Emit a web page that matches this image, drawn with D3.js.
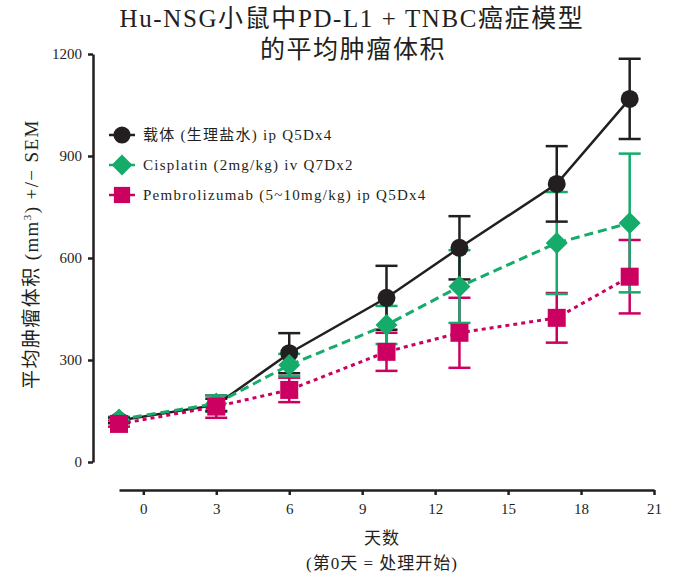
<!DOCTYPE html>
<html>
<head>
<meta charset="utf-8">
<script src="https://cdn.jsdelivr.net/npm/d3@7"></script>
<style>
  html, body { margin: 0; padding: 0; background: #fff; }
  svg text { font-family: "Liberation Serif", "Noto Sans CJK SC", serif; fill: #231f20; }
</style>
</head>
<body>
<svg id="chart" width="673" height="577"></svg>
<script>
// Tumour volume over time (days), mean ± SEM per treatment group
const days = [-1, 3, 6, 10, 13, 17, 20];
const vehicleMean = [122, 168, 320, 483, 630, 818, 1068];
const vehicleSem = [8, 18, 59, 94, 93, 111, 118];
const cisplatinMean = [125, 172, 285, 403, 516, 644, 703];
const cisplatinSem = [8, 24, 33, 56, 107, 150, 204];
const pembroMean = [112, 163, 212, 324, 380, 424, 545];
const pembroSem = [8, 33, 36, 56, 103, 73, 108];

const xTicks = [0, 3, 6, 9, 12, 15, 18, 21];
const yTicks = [0, 300, 600, 900, 1200];

const seriesNames = [
  "载体 (生理盐水) ip Q5Dx4",
  "Cisplatin (2mg/kg) iv Q7Dx2",
  "Pembrolizumab (5~10mg/kg) ip Q5Dx4"
];

const INK = "#231f20", GREEN = "#14ab6b", MAGENTA = "#cc0060";

const series = [
  { name: seriesNames[0], mean: vehicleMean, sem: vehicleSem, color: INK, dash: null, shape: "circle" },
  { name: seriesNames[1], mean: cisplatinMean, sem: cisplatinSem, color: GREEN, dash: "9,5", shape: "diamond" },
  { name: seriesNames[2], mean: pembroMean, sem: pembroSem, color: MAGENTA, dash: "4,4", shape: "square" }
];

const svg = d3.select("#chart");
const x = d3.scaleLinear().domain([-1, 21]).range([119, 654]);
const y = d3.scaleLinear().domain([0, 1200]).range([462, 54]);

// Title
svg.append("text").attr("x", 352).attr("y", 27).attr("text-anchor", "middle")
  .style("font-size", "25px").style("letter-spacing", "1.6px").text("Hu-NSG小鼠中PD-L1 + TNBC癌症模型");
svg.append("text").attr("x", 353).attr("y", 58).attr("text-anchor", "middle")
  .style("font-size", "25px").style("letter-spacing", "1.6px").text("的平均肿瘤体积");

// Y axis
const yAxis = svg.append("g").attr("transform", "translate(93,0)")
  .call(d3.axisLeft(y).tickValues(yTicks).tickFormat(d3.format("d"))
    .tickSize(5).tickPadding(6).tickSizeOuter(0));
yAxis.select(".domain").attr("stroke", INK).attr("stroke-width", 2.5);
yAxis.selectAll(".tick line").attr("stroke", INK).attr("stroke-width", 2.5);
yAxis.selectAll(".tick text").style("font-size", "15px").attr("fill", "#3a3637")
  .style("font-family", "'Liberation Serif', serif");

// X axis
const xAxis = svg.append("g").attr("transform", "translate(0,490)")
  .call(d3.axisBottom(x).tickValues(xTicks).tickFormat(d3.format("d"))
    .tickSize(5).tickPadding(8).tickSizeOuter(0));
xAxis.select(".domain").attr("stroke", INK).attr("stroke-width", 2.5);
xAxis.selectAll(".tick line").attr("stroke", INK).attr("stroke-width", 2.5);
xAxis.selectAll(".tick text").style("font-size", "15px").attr("fill", "#3a3637")
  .style("font-family", "'Liberation Serif', serif");

// Axis titles
svg.append("text").attr("transform", "translate(38,254) rotate(-90)")
  .attr("text-anchor", "middle").style("font-size", "19px").style("letter-spacing", "1.4px")
  .html('平均肿瘤体积 (mm<tspan dy="-7" font-size="11">3</tspan><tspan dy="7">) +/− SEM</tspan>');
svg.append("text").attr("x", 382).attr("y", 544).attr("text-anchor", "middle")
  .style("font-size", "17px").style("letter-spacing", "1px").text("天数");
svg.append("text").attr("x", 382).attr("y", 569).attr("text-anchor", "middle")
  .style("font-size", "17px").style("letter-spacing", "1px").text("(第0天 = 处理开始)");

function drawMarker(g, shape, cx, cy, color, scale = 1) {
  if (shape === "circle") {
    g.append("circle").attr("cx", cx).attr("cy", cy).attr("r", 9 * scale).attr("fill", color);
  } else if (shape === "diamond") {
    const r = 11 * scale;
    g.append("path").attr("d", `M${cx},${cy - r}L${cx + r},${cy}L${cx},${cy + r}L${cx - r},${cy}Z`).attr("fill", color);
  } else {
    const s = 18 * scale;
    g.append("rect").attr("x", cx - s / 2).attr("y", cy - s / 2).attr("width", s).attr("height", s).attr("fill", color);
  }
}

const plot = svg.append("g");
const cap = 11;

// Error bars (drawn beneath lines and markers)
[...series].reverse().forEach(s => {
  const g = plot.append("g").attr("stroke", s.color).attr("stroke-width", 2.5);
  days.forEach((d, i) => {
    const cx = x(d), hi = y(s.mean[i] + s.sem[i]), lo = y(s.mean[i] - s.sem[i]);
    g.append("line").attr("x1", cx).attr("x2", cx).attr("y1", hi).attr("y2", lo);
    g.append("line").attr("x1", cx - cap).attr("x2", cx + cap).attr("y1", hi).attr("y2", hi);
    g.append("line").attr("x1", cx - cap).attr("x2", cx + cap).attr("y1", lo).attr("y2", lo);
  });
});

// Connecting lines
const line = d3.line().x(d => x(d[0])).y(d => y(d[1]));
series.forEach(s => {
  plot.append("path").datum(days.map((d, i) => [d, s.mean[i]]))
    .attr("d", line).attr("fill", "none").attr("stroke", s.color)
    .attr("stroke-width", s.dash ? 3 : 2.5)
    .attr("stroke-dasharray", s.dash);
});

// Markers
series.forEach(s => {
  const g = plot.append("g");
  days.forEach((d, i) => drawMarker(g, s.shape, x(d), y(s.mean[i]), s.color));
});

// Legend
const legend = svg.append("g");
series.forEach((s, i) => {
  const cy = 135 + i * 30;
  legend.append("line").attr("x1", 109).attr("x2", 135).attr("y1", cy).attr("y2", cy)
    .attr("stroke", s.color).attr("stroke-width", 2.5);
  drawMarker(legend, s.shape, 122, cy, s.color, s.shape === "square" ? 0.9 : 0.95);
  legend.append("text").attr("x", 143).attr("y", cy + 5).style("font-size", "15px")
    .style("letter-spacing", "1.25px").text(s.name);
});
</script>
</body>
</html>
